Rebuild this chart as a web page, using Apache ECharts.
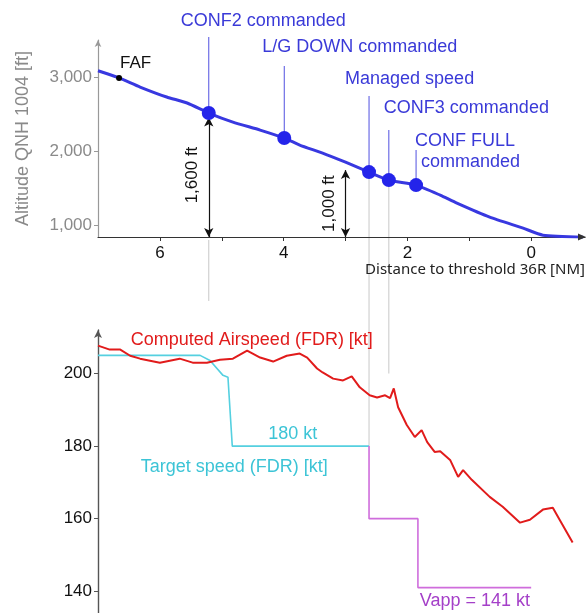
<!DOCTYPE html>
<html>
<head>
<meta charset="utf-8">
<script src="https://cdn.jsdelivr.net/npm/echarts@6/dist/echarts.min.js"></script>
<style>
  html, body { margin: 0; padding: 0; background: #fff; }
  #main { width: 587px; height: 613px; }
</style>
</head>
<body>
<div id="main"></div>
<script>
// altitude profile: distance to threshold [NM] / altitude [ft]
var altDist = [7.0, 6.68, 6.32, 5.89, 5.56, 5.21, 4.82, 4.38, 3.99, 3.74, 3.37, 3.0, 2.62, 2.30, 1.86, 1.47, 1.20, 0.67, 0.13, -0.19, -0.84];
var altFt = [3085, 2995, 2865, 2730, 2649, 2514, 2392, 2284, 2176, 2081, 1973, 1850, 1716, 1608, 1541, 1405, 1297, 1108, 959, 865, 838];

// events on the profile
var eventNames = [['CONF2 commanded'], ['L/G DOWN commanded'], ['Managed speed'], ['CONF3 commanded'], ['CONF FULL', 'commanded']];
var eventDist = [5.21, 3.99, 2.62, 2.30, 1.86];
var eventAlt = [2514, 2176, 1716, 1608, 1541];
var fafDist = 6.66;
var fafAlt = 2986;

// computed airspeed (FDR) [kt]
var casDist = [7.0, 6.81, 6.64, 6.48, 6.32, 6.0, 5.68, 5.47, 5.24, 5.03, 4.82, 4.59, 4.38, 4.17, 3.95, 3.74, 3.62, 3.46, 3.37, 3.20, 3.04, 2.90, 2.77, 2.61, 2.49, 2.36, 2.28, 2.22, 2.15, 2.01, 1.88, 1.77, 1.68, 1.56, 1.47, 1.31, 1.18, 1.10, 0.96, 0.67, 0.46, 0.18, 0.02, -0.19, -0.35, -0.46, -0.67];
var casKt = [207.7, 206.6, 206.6, 204.9, 204.1, 203.0, 204.1, 203.0, 203.0, 203.8, 204.1, 206.3, 204.4, 203.3, 204.9, 205.5, 204.4, 201.4, 200.3, 198.6, 198.1, 199.2, 196.2, 194.0, 193.4, 194.0, 193.2, 195.9, 190.7, 185.8, 182.5, 184.4, 181.1, 178.4, 178.6, 176.2, 171.5, 173.4, 170.7, 166.0, 163.3, 158.9, 159.7, 162.5, 163.0, 159.7, 153.4];

// target speed (FDR) [kt]
var tgtDist = [7.0, 5.35, 5.19, 4.98, 4.90, 4.83, 2.62];
var tgtKt = [205, 205, 203.6, 199.5, 199, 180, 180];

// managed speed target down to Vapp
var vappDist = [2.62, 2.62, 1.83, 1.83, 0];
var vappKt = [180, 160, 160, 141, 141];

// axis ticks
var distLabels = [0, 2, 4, 6];
var distTicks = [0, 1, 2, 3, 4, 5, 6];
var altTicks = [1000, 2000, 3000];
var ktTicks = [140, 160, 180, 200];

var FONT = '"Liberation Sans", Arial, sans-serif';
var BLUE = '#3838e0';
var BLUE_TXT = '#3a3ad8';
var RED = '#e11b1b';
var CYAN = '#55d0e0';
var MAGENTA = '#cf6ddc';

function zip(a, b) {
  return a.map(function (v, i) { return [v, b[i]]; });
}

var chart = echarts.init(document.getElementById('main'));

var option = {
  animation: false,
  backgroundColor: '#fff',
  textStyle: { fontFamily: FONT },
  grid: [
    { left: 98, right: 2, top: 40, height: 197, outerBoundsMode: 'none' },
    { left: 98, right: 2, top: 330, bottom: 0, outerBoundsMode: 'none' }
  ],
  xAxis: [
    {
      gridIndex: 0, type: 'value', min: -0.87, max: 7, inverse: true,
      axisLine: { show: true, onZero: false, lineStyle: { color: '#333', width: 1.2 }, symbol: 'none' },
      axisTick: { show: true, length: 4, lineStyle: { color: '#333' }, customValues: distTicks },
      axisLabel: { show: true, color: '#111', fontSize: 17, margin: 8, customValues: distLabels },
      splitLine: { show: false }
    },
    {
      gridIndex: 1, type: 'value', min: -0.87, max: 7, inverse: true, show: false,
      splitLine: { show: false }
    }
  ],
  yAxis: [
    {
      gridIndex: 0, type: 'value', min: 840, max: 3500,
      name: 'Altitude QNH 1004 [ft]', nameLocation: 'middle', nameRotate: 90, nameGap: 66,
      nameTextStyle: { color: '#8a8a8a', fontSize: 18, fontFamily: FONT },
      axisLine: { show: true, onZero: false, lineStyle: { color: '#999', width: 1.2 }, symbol: ['none', 'arrow'], symbolSize: [5, 7] },
      axisTick: { show: true, length: 4, lineStyle: { color: '#999' }, customValues: altTicks },
      axisLabel: {
        color: '#8a8a8a', fontSize: 17, margin: 6, customValues: altTicks,
        formatter: function (v) { return v.toLocaleString('en-US'); }
      },
      splitLine: { show: false }
    },
    {
      gridIndex: 1, type: 'value', min: 134, max: 212,
      axisLine: { show: true, onZero: false, lineStyle: { color: '#555', width: 1.4 }, symbol: ['none', 'arrow'], symbolSize: [6, 8] },
      axisTick: { show: true, length: 4, lineStyle: { color: '#555' }, customValues: ktTicks },
      axisLabel: { color: '#111', fontSize: 17, margin: 6, customValues: ktTicks },
      splitLine: { show: false }
    }
  ],
  series: [
    {
      name: 'Altitude', type: 'line', xAxisIndex: 0, yAxisIndex: 0,
      data: zip(altDist, altFt), smooth: 0.2, showSymbol: false,
      lineStyle: { color: BLUE, width: 3 }, z: 3
    },
    {
      name: 'Height arrows', type: 'line', xAxisIndex: 0, yAxisIndex: 0, data: [],
      markLine: {
        silent: true, symbol: ['arrow', 'arrow'], symbolSize: [7, 9],
        lineStyle: { color: '#111', width: 1.2, type: 'solid' },
        label: { show: false },
        data: [
          [{ coord: [eventDist[0], eventAlt[0] - 60] }, { coord: [eventDist[0], 840] }],
          [{ coord: [3.0, 1743] }, { coord: [3.0, 840] }]
        ]
      }
    },
    {
      name: 'Events', type: 'scatter', xAxisIndex: 0, yAxisIndex: 0,
      data: zip(eventDist, eventAlt), symbolSize: 14,
      itemStyle: { color: '#2424ea', opacity: 1 }, z: 5
    },
    {
      name: 'FAF', type: 'scatter', xAxisIndex: 0, yAxisIndex: 0,
      data: [[fafDist, fafAlt]], symbolSize: 6,
      itemStyle: { color: '#000', opacity: 1 }, z: 5
    },
    {
      name: 'Computed Airspeed (FDR) [kt]', type: 'line', xAxisIndex: 1, yAxisIndex: 1,
      data: zip(casDist, casKt), showSymbol: false,
      lineStyle: { color: RED, width: 2 }, z: 4
    },
    {
      name: 'Target speed (FDR) [kt]', type: 'line', xAxisIndex: 1, yAxisIndex: 1,
      data: zip(tgtDist, tgtKt), showSymbol: false,
      lineStyle: { color: CYAN, width: 1.6 }, z: 3
    },
    {
      name: 'Vapp', type: 'line', xAxisIndex: 1, yAxisIndex: 1,
      data: zip(vappDist, vappKt), showSymbol: false,
      lineStyle: { color: MAGENTA, width: 1.6 }, z: 3
    }
  ]
};

chart.setOption(option);

// annotations placed through the chart's own scales
function px(grid, d, v) {
  return chart.convertToPixel({ gridIndex: grid }, [d, v]);
}

var leaderTop = [37, 66, 96, 130, 150];
var labelLayout = [
  [{ dx: -28, y: 21 }],
  [{ dx: -22, y: 47 }],
  [{ dx: -24, y: 79 }],
  [{ dx: -5, y: 108 }],
  [{ dx: -1, y: 141 }, { dx: 5, y: 162 }]
];
// where the grey guide lines stop in the speed panel [kt]
var guideEnd = [220, null, 180, 200, null];

var g = [];
eventNames.forEach(function (lines, i) {
  var p = px(0, eventDist[i], eventAlt[i]);
  g.push({ type: 'line', z: 1, shape: { x1: p[0], y1: leaderTop[i], x2: p[0], y2: p[1] }, style: { stroke: '#5050e0', lineWidth: 1 } });
  lines.forEach(function (t, k) {
    var l = labelLayout[i][k];
    g.push({ type: 'text', x: p[0] + l.dx, y: l.y, style: { text: t, fill: BLUE_TXT, font: '18px ' + FONT, textVerticalAlign: 'middle' } });
  });
  if (guideEnd[i] != null) {
    var y0 = i === 0 ? px(0, eventDist[i], 840)[1] + 3 : p[1];
    var q = px(1, eventDist[i], guideEnd[i]);
    g.push({ type: 'line', z: 0, shape: { x1: p[0], y1: y0, x2: p[0], y2: q[1] }, style: { stroke: '#c8c8c8', lineWidth: 1 } });
  }
});

// arrow head at the right end of the distance axis
var ax = px(0, -0.87, 840);
g.push({ type: 'polygon', z: 10, shape: { points: [[ax[0] + 1, ax[1]], [ax[0] - 7, ax[1] - 3.5], [ax[0] - 7, ax[1] + 3.5]] }, style: { fill: '#333' } });

// height difference labels
var h1 = px(0, eventDist[0], (eventAlt[0] + 840) / 2);
var h2 = px(0, 3.0, (1743 + 840) / 2);
[[h1, '1,600 ft'], [h2, '1,000 ft']].forEach(function (a) {
  g.push({ type: 'text', x: a[0][0] - 16, y: a[0][1], rotation: Math.PI / 2,
    style: { text: a[1], fill: '#111', font: '17px ' + FONT, textAlign: 'center', textVerticalAlign: 'middle' } });
});

// FAF label
var fp = px(0, fafDist, fafAlt);
g.push({ type: 'text', x: fp[0] + 1, y: fp[1] - 15, style: { text: 'FAF', fill: '#111', font: '17px ' + FONT, textVerticalAlign: 'middle' } });

// speed panel notes
var notes = [
  { text: 'Computed Airspeed (FDR) [kt]', d: 6.47, kt: 209.3, color: RED },
  { text: '180 kt', d: 4.25, kt: 183.3, color: '#3cc4d6' },
  { text: 'Target speed (FDR) [kt]', d: 6.31, kt: 174.2, color: '#3cc4d6' },
  { text: 'Vapp = 141 kt', d: 1.80, kt: 137.2, color: '#a43fc8' }
];
notes.forEach(function (n) {
  var p = px(1, n.d, n.kt);
  g.push({ type: 'text', x: p[0], y: p[1], style: { text: n.text, fill: n.color, font: '18px ' + FONT, textVerticalAlign: 'middle' } });
});

// x axis title
g.push({ type: 'text', x: 585, y: 270, style: { text: 'Distance to threshold 36R [NM]', fill: '#222', font: '15px "Noto Sans", "Open Sans", sans-serif', textAlign: 'right', textVerticalAlign: 'middle' } });

chart.setOption({ graphic: g });
</script>
</body>
</html>
